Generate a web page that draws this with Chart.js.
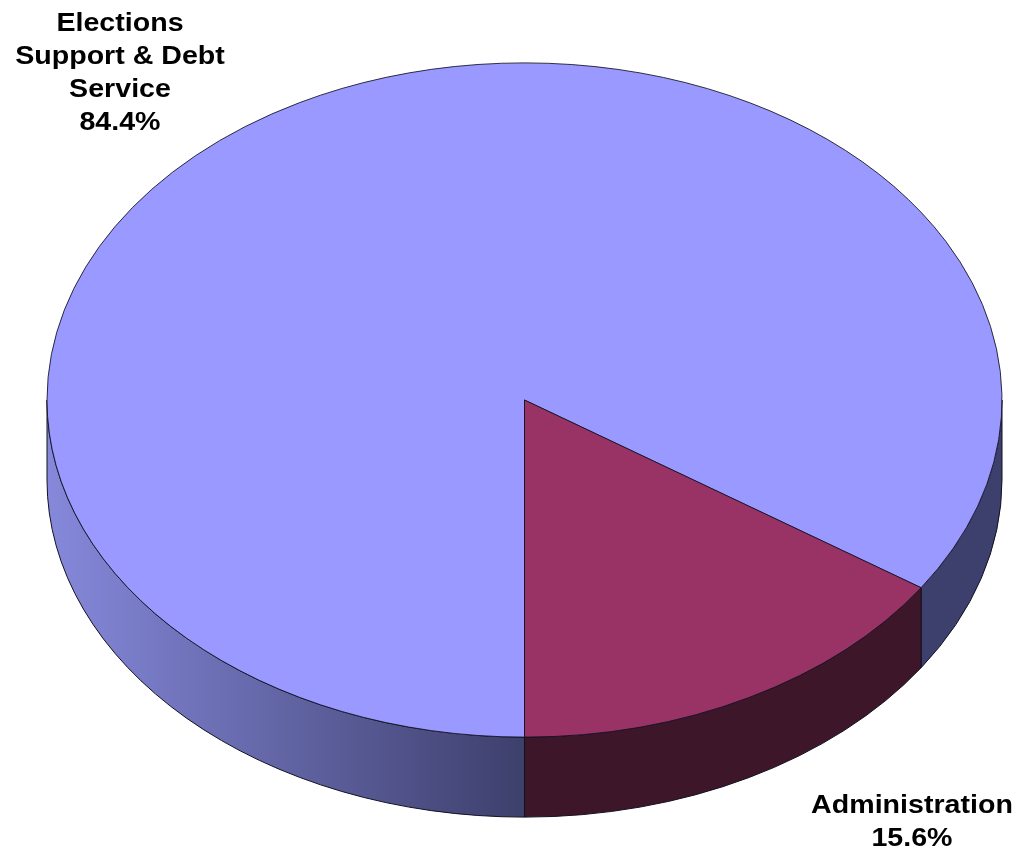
<!DOCTYPE html>
<html>
<head>
<meta charset="utf-8">
<script src="https://cdn.jsdelivr.net/npm/chart.js@4"></script>
<style>
  html, body { margin: 0; padding: 0; background: #fff; }
  #wrap { width: 1021px; height: 852px; }
</style>
</head>
<body>
<div id="wrap"><canvas id="chart"></canvas></div>
<script>
// budget split, percent
const categories = [['Elections', 'Support & Debt', 'Service'], ['Administration']];
const shares = [84.4, 15.6];
const topColors = ['#9999ff', '#993366'];
// rim shading: [left end, darkest] for each slice
const wallColors = [['#8689db', '#3d3f6c'], ['#3e1629', '#3e1629']];

// squashes the pie into an ellipse and paints the front rim under it
const pie3d = {
  id: 'pie3d',
  beforeDatasetsDraw(chart, args, opts) {
    const ctx = chart.ctx;
    const arcs = chart.getDatasetMeta(0).data;
    if (!arcs.length) return;
    const cx = arcs[0].x, cy = arcs[0].y, rx = arcs[0].outerRadius;
    const ry = rx * opts.tilt;
    ctx.save();
    arcs.forEach((arc, i) => {
      const grad = ctx.createLinearGradient(cx - rx, 0, cx, 0);
      grad.addColorStop(0, opts.wallColors[i][0]);
      grad.addColorStop(1, opts.wallColors[i][1]);
      // only the front half (0..PI) of the rim shows
      for (let k = -1; k <= 2; k++) {
        const lo = Math.max(arc.startAngle, k * 2 * Math.PI);
        const hi = Math.min(arc.endAngle, k * 2 * Math.PI + Math.PI);
        if (hi <= lo) continue;
        ctx.beginPath();
        ctx.ellipse(cx, cy, rx, ry, 0, lo, hi);
        ctx.ellipse(cx, cy + opts.depth, rx, ry, 0, hi, lo, true);
        ctx.closePath();
        ctx.fillStyle = grad;
        ctx.fill();
        ctx.lineWidth = 1;
        ctx.strokeStyle = opts.edge;
        ctx.stroke();
      }
    });
    ctx.restore();
    ctx.save();
    ctx.translate(cx, cy);
    ctx.scale(1, opts.tilt);
    ctx.translate(-cx, -cy);
  },
  afterDatasetsDraw(chart) {
    chart.ctx.restore();
  }
};

const sliceLabels = {
  id: 'sliceLabels',
  afterDraw(chart, args, opts) {
    const ctx = chart.ctx;
    const vals = chart.data.datasets[0].data;
    ctx.save();
    ctx.fillStyle = '#000';
    ctx.font = opts.font;
    ctx.textAlign = 'center';
    chart.data.labels.forEach((lines, i) => {
      const text = lines.concat(vals[i].toFixed(1) + '%');
      const pos = opts.positions[i];
      text.forEach((t, j) => {
        ctx.save();
        ctx.translate(pos.x, pos.y + j * opts.lineHeight);
        ctx.scale(opts.stretch, 1);
        ctx.fillText(t, 0, 0);
        ctx.restore();
      });
    });
    ctx.restore();
  }
};

new Chart('chart', {
  type: 'pie',
  data: {
    labels: categories,
    datasets: [{
      data: shares,
      backgroundColor: topColors,
      borderColor: '#111122',
      borderWidth: 1,
      radius: 477.5,
      clip: false
    }]
  },
  options: {
    responsive: true,
    maintainAspectRatio: false,
    devicePixelRatio: 1,
    animation: false,
    events: [],
    rotation: 180,
    layout: { padding: { left: 28, bottom: 52 } },
    plugins: {
      legend: { display: false },
      tooltip: { enabled: false },
      pie3d: { tilt: 0.706, depth: 80, wallColors: wallColors, edge: '#111122' },
      sliceLabels: {
        font: 'bold 26px "Liberation Sans", Arial, sans-serif',
        stretch: 1.1,
        lineHeight: 33,
        positions: [{ x: 120, y: 31 }, { x: 912, y: 813 }]
      }
    }
  },
  plugins: [pie3d, sliceLabels]
});
</script>
</body>
</html>
